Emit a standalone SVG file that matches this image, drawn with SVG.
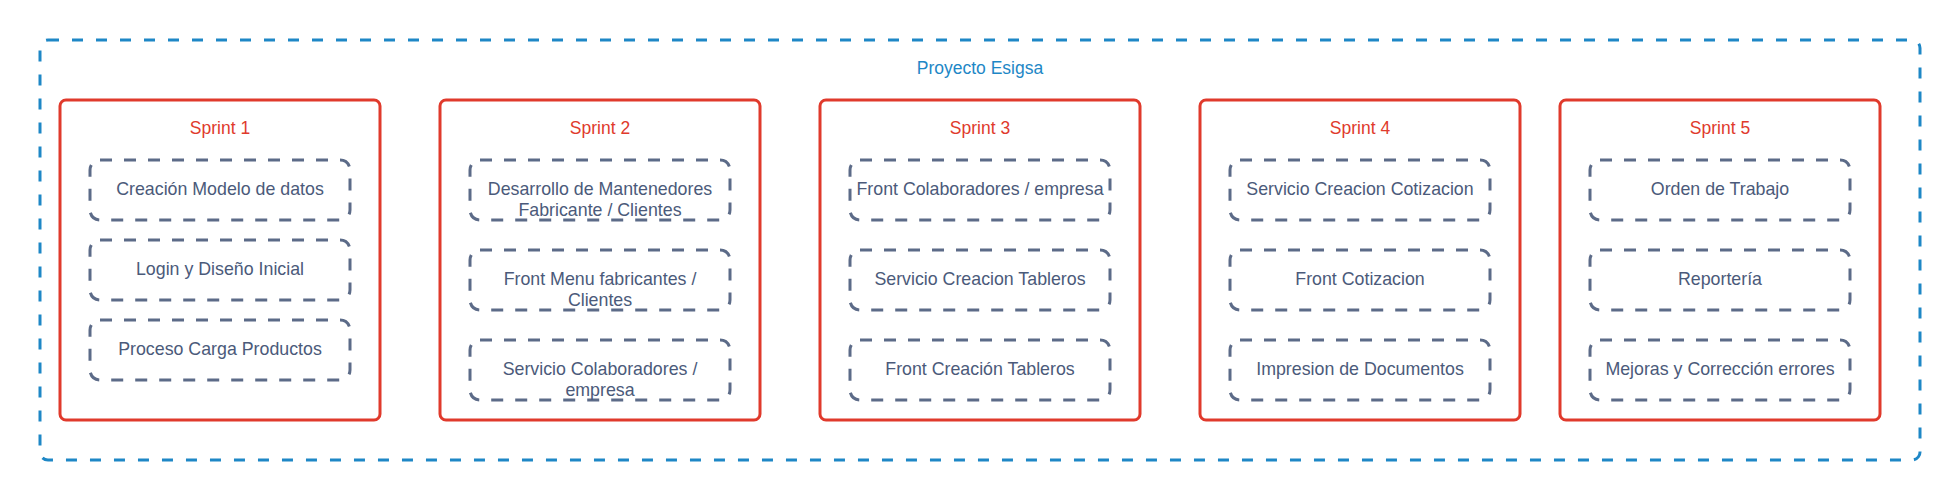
<svg xmlns="http://www.w3.org/2000/svg" width="1960" height="500" viewBox="0 0 1960 500">
<style>
text{font-family:"Liberation Sans",Arial,sans-serif;text-anchor:middle}
.outer{fill:none;stroke:#1e87c6;stroke-width:3;stroke-dasharray:11 13}
.sprint{fill:#fff;stroke:#e03a2c;stroke-width:3}
.task{fill:none;stroke:#5c6b88;stroke-width:3;stroke-dasharray:12 12}
.ttl{fill:#e03a2c;font-size:17.5px}
.ptl{fill:#1e87c6;font-size:17.5px}
.tt{fill:#4b5a7a;font-size:17.8px}
</style>
<g id="proyecto">
<rect class="outer" x="40" y="40" width="1880" height="420" rx="8"/>
<text class="ptl" x="980" y="74">Proyecto Esigsa</text>
</g>
<g id="sprint1">
<rect class="sprint" x="60" y="100" width="320" height="320" rx="6"/>
<text class="ttl" x="220" y="134">Sprint 1</text>
</g>
<g id="s1t1"><rect class="task" x="90" y="160" width="260" height="60" rx="10"/><text class="tt" x="220" y="194.5">Creación Modelo de datos</text></g>
<g id="s1t2"><rect class="task" x="90" y="240" width="260" height="60" rx="10"/><text class="tt" x="220" y="274.5">Login y Diseño Inicial</text></g>
<g id="s1t3"><rect class="task" x="90" y="320" width="260" height="60" rx="10"/><text class="tt" x="220" y="354.5">Proceso Carga Productos</text></g>
<g id="sprint2">
<rect class="sprint" x="440" y="100" width="320" height="320" rx="6"/>
<text class="ttl" x="600" y="134">Sprint 2</text>
</g>
<g id="s2t1"><rect class="task" x="470" y="160" width="260" height="60" rx="10"/><text class="tt" x="600" y="194.5">Desarrollo de Mantenedores</text><text class="tt" x="600" y="216">Fabricante / Clientes</text></g>
<g id="s2t2"><rect class="task" x="470" y="250" width="260" height="60" rx="10"/><text class="tt" x="600" y="284.5">Front Menu fabricantes /</text><text class="tt" x="600" y="306">Clientes</text></g>
<g id="s2t3"><rect class="task" x="470" y="340" width="260" height="60" rx="10"/><text class="tt" x="600" y="374.5">Servicio Colaboradores /</text><text class="tt" x="600" y="396">empresa</text></g>
<g id="sprint3">
<rect class="sprint" x="820" y="100" width="320" height="320" rx="6"/>
<text class="ttl" x="980" y="134">Sprint 3</text>
</g>
<g id="s3t1"><rect class="task" x="850" y="160" width="260" height="60" rx="10"/><text class="tt" x="980" y="194.5">Front Colaboradores / empresa</text></g>
<g id="s3t2"><rect class="task" x="850" y="250" width="260" height="60" rx="10"/><text class="tt" x="980" y="284.5">Servicio Creacion Tableros</text></g>
<g id="s3t3"><rect class="task" x="850" y="340" width="260" height="60" rx="10"/><text class="tt" x="980" y="374.5">Front Creación Tableros</text></g>
<g id="sprint4">
<rect class="sprint" x="1200" y="100" width="320" height="320" rx="6"/>
<text class="ttl" x="1360" y="134">Sprint 4</text>
</g>
<g id="s4t1"><rect class="task" x="1230" y="160" width="260" height="60" rx="10"/><text class="tt" x="1360" y="194.5">Servicio Creacion Cotizacion</text></g>
<g id="s4t2"><rect class="task" x="1230" y="250" width="260" height="60" rx="10"/><text class="tt" x="1360" y="284.5">Front Cotizacion</text></g>
<g id="s4t3"><rect class="task" x="1230" y="340" width="260" height="60" rx="10"/><text class="tt" x="1360" y="374.5">Impresion de Documentos</text></g>
<g id="sprint5">
<rect class="sprint" x="1560" y="100" width="320" height="320" rx="6"/>
<text class="ttl" x="1720" y="134">Sprint 5</text>
</g>
<g id="s5t1"><rect class="task" x="1590" y="160" width="260" height="60" rx="10"/><text class="tt" x="1720" y="194.5">Orden de Trabajo</text></g>
<g id="s5t2"><rect class="task" x="1590" y="250" width="260" height="60" rx="10"/><text class="tt" x="1720" y="284.5">Reportería</text></g>
<g id="s5t3"><rect class="task" x="1590" y="340" width="260" height="60" rx="10"/><text class="tt" x="1720" y="374.5">Mejoras y Corrección errores</text></g>
<g id="connectors"></g>
</svg>
